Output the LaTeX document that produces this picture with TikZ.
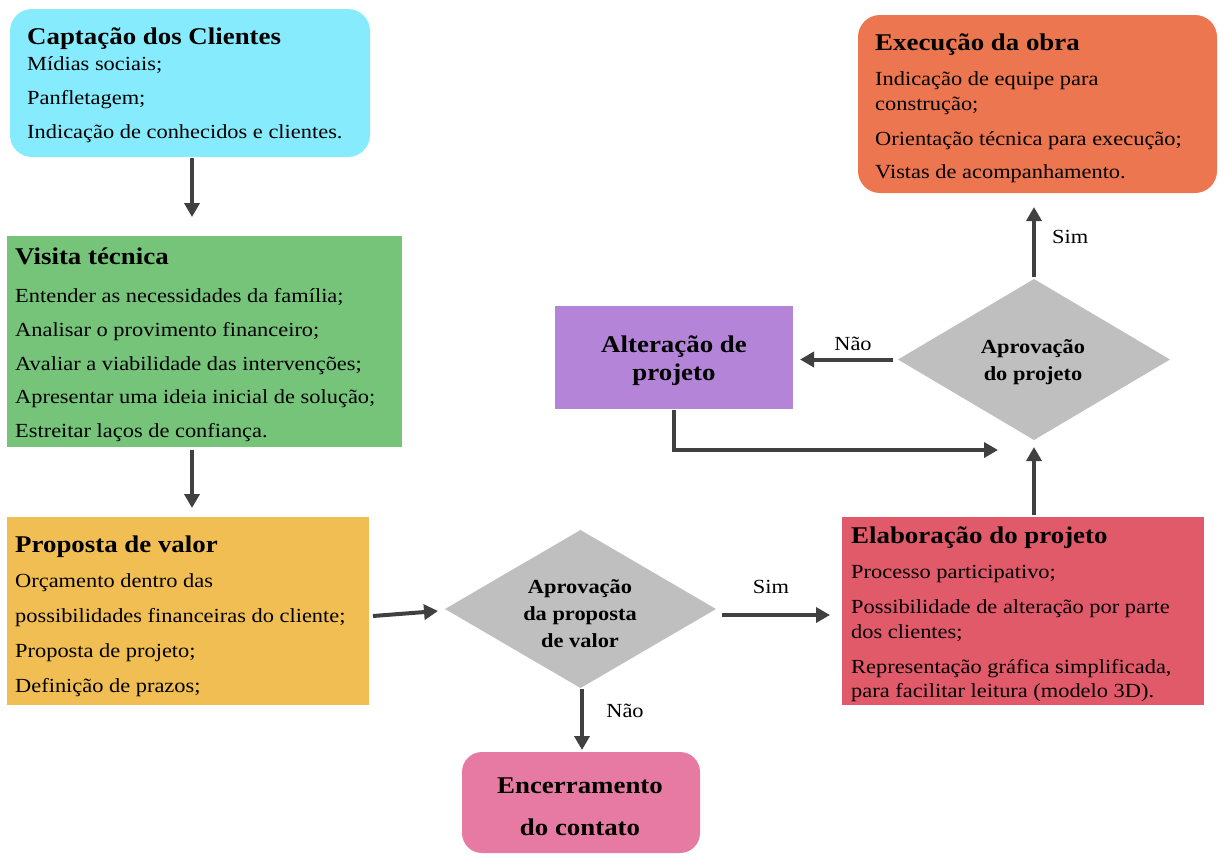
\documentclass[tikz,border=0pt]{standalone}
\usepackage{fontspec}
\setmainfont{Liberation Serif}[FakeStretch=1.12]
\usetikzlibrary{arrows.meta,shapes.geometric}
\definecolor{cCap}{RGB}{134,236,253}
\definecolor{cVis}{RGB}{118,196,122}
\definecolor{cPro}{RGB}{240,190,82}
\definecolor{cDia}{RGB}{191,191,191}
\definecolor{cEnc}{RGB}{230,122,163}
\definecolor{cEla}{RGB}{225,90,106}
\definecolor{cAlt}{RGB}{180,132,216}
\definecolor{cExe}{RGB}{236,118,80}
\definecolor{cArr}{RGB}{64,64,64}
\begin{document}
\begin{tikzpicture}[x=1pt,y=-1pt,
  box/.style={draw=none,inner sep=0pt,outer sep=0pt},
  dia/.style={diamond,draw=none,fill=cDia,inner sep=0pt,outer sep=0pt},
  dtxt/.style={inner sep=0pt,anchor=base,font=\bfseries\fontsize{20}{24}\selectfont},
  body/.style={inner sep=0pt,anchor=base west,font=\fontsize{20}{24}\selectfont},
  ttl/.style={inner sep=0pt,anchor=base west,font=\bfseries\fontsize{24}{28}\selectfont},
  ctr/.style={inner sep=0pt,anchor=base,font=\bfseries\fontsize{24}{28}\selectfont},
  lbl/.style={inner sep=0pt,anchor=base,font=\fontsize{20}{24}\selectfont},
  arr/.style={draw=cArr,line width=4pt,-{Triangle[length=14pt,width=15pt]}}]
\useasboundingbox (0,0) rectangle (1221,855);

% boxes
\node[box,fill=cCap,rounded corners=22pt,minimum width=360pt,minimum height=148pt] (cap) at (190,83) {};
\node[box,fill=cVis,minimum width=395pt,minimum height=211pt] (vis) at (204.5,341.5) {};
\node[box,fill=cPro,minimum width=362pt,minimum height=188pt] (prop) at (188,611) {};
\node[box,fill=cEla,minimum width=362pt,minimum height=188pt] (elab) at (1023,611) {};
\node[box,fill=cExe,rounded corners=22pt,minimum width=359pt,minimum height=178pt] (exec) at (1037.5,104) {};
\node[box,fill=cAlt,minimum width=238pt,minimum height=103pt] (alt) at (674,357.5) {};
\node[box,fill=cEnc,rounded corners=20pt,minimum width=238pt,minimum height=101pt] (enc) at (581,802.5) {};
\node[dia,minimum width=271pt,minimum height=158pt] (d1) at (580.5,609) {};
\node[dia,minimum width=272pt,minimum height=161pt] (d2) at (1034,359.5) {};

% centred texts
\node[ctr] (alt1) at (674,352) {Alteração de};
\node[ctr] (alt2) at (674,380) {projeto};
\node[ctr] (enc1) at (580,793) {Encerramento};
\node[ctr] (enc2) at (580,835) {do contato};
\node[dtxt] (d1a) at (580,593) {Aprovação};
\node[dtxt] (d1b) at (580,620) {da proposta};
\node[dtxt] (d1c) at (580,647) {de valor};
\node[dtxt] (d2a) at (1033,353) {Aprovação};
\node[dtxt] (d2b) at (1033,380) {do projeto};

% texts: Captação
\node[ttl] (capT) at (27,44) {Captação dos Clientes};
\node[body] (cap1) at (27,70) {Mídias sociais;};
\node[body] (cap2) at (27,104) {Panfletagem;};
\node[body] (cap3) at (27,138) {Indicação de conhecidos e clientes.};
% Visita
\node[ttl] (visT) at (15,264) {Visita técnica};
\node[body] (vis1) at (15,302) {Entender as necessidades da família;};
\node[body] (vis2) at (15,336) {Analisar o provimento financeiro;};
\node[body] (vis3) at (15,370) {Avaliar a viabilidade das intervenções;};
\node[body] (vis4) at (15,403) {Apresentar uma ideia inicial de solução;};
\node[body] (vis5) at (15,437) {Estreitar laços de confiança.};
% Proposta
\node[ttl] (proT) at (15,552) {Proposta de valor};
\node[body] (pro1) at (15,587) {Orçamento dentro das};
\node[body] (pro2) at (15,622) {possibilidades financeiras do cliente;};
\node[body] (pro3) at (15,657) {Proposta de projeto;};
\node[body] (pro4) at (15,692) {Definição de prazos;};
% Elaboração
\node[ttl] (elaT) at (851,543) {Elaboração do projeto};
\node[body] (ela1) at (851,578) {Processo participativo;};
\node[body] (ela2) at (851,613) {Possibilidade de alteração por parte};
\node[body] (ela3) at (851,638) {dos clientes;};
\node[body] (ela4) at (851,673) {Representação gráfica simplificada,};
\node[body] (ela5) at (851,697) {para facilitar leitura (modelo 3D).};
% Execução
\node[ttl] (exeT) at (875,50) {Execução da obra};
\node[body] (exe1) at (875,85) {Indicação de equipe para};
\node[body] (exe2) at (875,110) {construção;};
\node[body] (exe3) at (875,145) {Orientação técnica para execução;};
\node[body] (exe4) at (875,178) {Vistas de acompanhamento.};

% labels
\node[lbl] (sim1) at (771,593) {Sim};
\node[lbl] (nao1) at (625,717) {Não};
\node[lbl,anchor=base west] (sim2) at (1052,243) {Sim};
\node[lbl] (nao2) at (853,350) {Não};

% arrows
\coordinate (d1e) at ([shift={(6pt,-6pt)}]d1.east);
\draw[arr] ([xshift=2pt,yshift=-1pt]cap.south) -- ([xshift=2pt,yshift=19pt]cap.south |- vis.north);
\draw[arr] ([xshift=2pt,yshift=-3pt]cap.south |- vis.south) -- ([xshift=2pt,yshift=9pt]cap.south |- prop.north);
\draw[arr] ([shift={(4pt,-5pt)}]prop.east) -- ([shift={(-7pt,-2pt)}]d1.west);
\draw[arr] (d1e) -- ([xshift=-12pt]elab.west |- d1e);
\draw[arr] ([xshift=1.5pt,yshift=-1pt]d1.south) -- ([xshift=1pt,yshift=2pt]enc.north);
\draw[arr] ([yshift=2pt]d2.south |- elab.north) -- ([yshift=-7pt]d2.south);
\draw[arr] ([yshift=2pt]d2.north) -- ([yshift=-14pt]d2.north |- exec.south);
\draw[arr] ([xshift=-5pt]d2.west) -- ([xshift=7pt]alt.east |- d2.west);
\draw[arr] ([yshift=-1pt]alt.south) |- ([shift={(-36pt,-10pt)}]d2.south);
\end{tikzpicture}
\end{document}
